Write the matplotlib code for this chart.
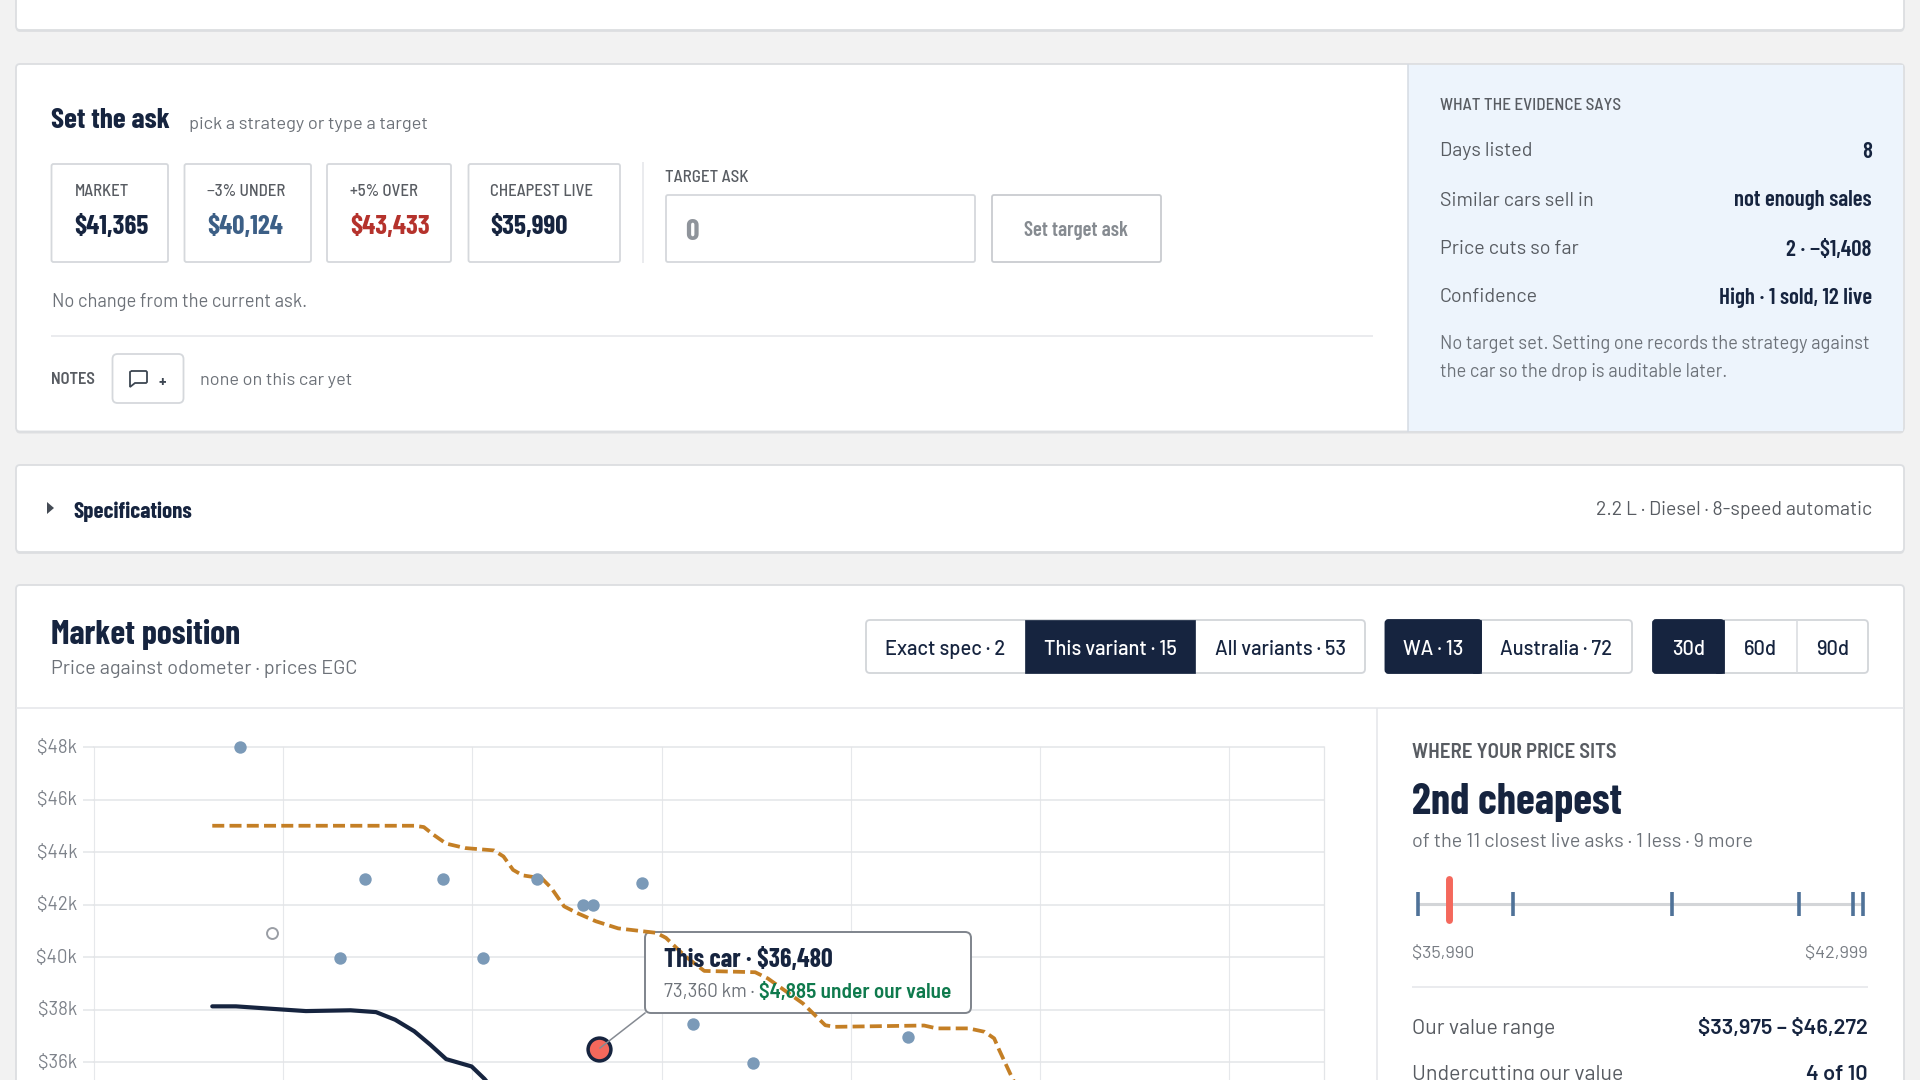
import matplotlib
matplotlib.use("Agg")
import matplotlib.pyplot as plt
from matplotlib.patches import FancyBboxPatch, Rectangle, Polygon
from matplotlib.path import Path
from matplotlib.patches import PathPatch
from matplotlib.transforms import ScaledTranslation

# ---------- data ----------
live_km = [35400, 48660, 56880, 66780, 77890, 71690, 72780, 45970, 61120, 83350, 89610, 106040]
live_price = [48000, 42960, 42970, 42970, 42830, 41970, 41970, 39970, 39970, 37450, 35970, 36950]
sold_km = [38770]
sold_price = [40900]
car_km = [73360]
car_price = [36480]
market_km = [32500, 37000, 53850, 54860, 55870, 57220, 59240, 62270, 63280, 64290, 65300, 67320,
             68330, 69680, 71030, 73050, 75400, 79440, 80450, 82480, 84500, 89880, 91230, 94930,
             97290, 98300, 107730, 109080, 112450, 114130, 115140, 115680, 117150, 118000]
market_price = [45000, 45000, 45000, 44950, 44660, 44320, 44150, 44060, 43830, 43320, 43110, 43000,
                42630, 41930, 41680, 41360, 41090, 40920, 40730, 40030, 39470, 39420, 39180, 38230,
                37400, 37340, 37390, 37280, 37280, 37150, 36900, 36450, 35310, 35000]
trend_km = [32500, 35000, 39040, 42400, 47120, 49810, 51830, 53850, 55540, 57220, 59910, 61260, 61930]
trend_price = [38120, 38120, 38020, 37940, 37970, 37900, 37610, 37170, 36660, 36110, 35830, 35360, 35070]
y_ticks = [36000, 38000, 40000, 42000, 44000, 46000, 48000]
y_labels = ["$36k", "$38k", "$40k", "$42k", "$44k", "$46k", "$48k"]
x_ticks = [20000, 40000, 60000, 80000, 100000, 120000, 140000, 150000]
strip_asks = [35990, 37480, 39990, 41990, 42850, 42999]
strip_car = [36480]
strategy_labels = ["MARKET", "−3% UNDER", "+5% OVER", "CHEAPEST LIVE"]
strategy_values = ["$41,365", "$40,124", "$43,433", "$35,990"]
evidence_labels = ["Days listed", "Similar cars sell in", "Price cuts so far", "Confidence"]
evidence_values = ["8", "not enough sales", "2 · −$1,408", "High · 1 sold, 12 live"]

# ---------- style ----------
NAVY = "#16243f"
GREY = "#6d7279"
MID = "#585c62"
BORDER = "#d5d8dc"
COND = ["Barlow Condensed", "Roboto", "DejaVu Sans"]
SEMI = ["Barlow Semi Condensed", "Roboto", "DejaVu Sans"]
BODY = ["Barlow", "Roboto", "DejaVu Sans"]

fig = plt.figure(figsize=(19.2, 10.8), dpi=100, facecolor="#f2f2f2")
ui = fig.add_axes([0, 0, 1, 1], zorder=0)
ui.set_xlim(0, 1920)
ui.set_ylim(1080, 0)
ui.axis("off")


def T(x, y, s, size=13, color=GREY, weight="normal", family=BODY, ha="left", ax=ui, **kw):
    return ax.text(x, y + 4, s, fontsize=size, color=color, fontweight=weight, family=family,
                   ha=ha, va="center", transform=ui.transData, parse_math=False, **kw)


def box(x0, y0, x1, y1, fc="white", ec=BORDER, r=3, lw=1.3, z=1, ax=ui):
    p = FancyBboxPatch((x0, y0), x1 - x0, y1 - y0, boxstyle=f"round,pad=0,rounding_size={r}",
                       fc=fc, ec=ec, lw=lw, zorder=z, transform=ui.transData, clip_on=False)
    ax.add_patch(p)
    return p


def hline(x0, x1, y, c="#e4e6e9", lw=1.1):
    ui.plot([x0, x1], [y, y], color=c, lw=lw, solid_capstyle="butt", zorder=2)


def vline(x, y0, y1, c="#e4e6e9", lw=1.1):
    ui.plot([x, x], [y0, y1], color=c, lw=lw, solid_capstyle="butt", zorder=2)


def card(y0, y1):
    box(16, y0 + 2, 1904, y1 + 2, fc="#dfe0e2", ec="none", r=4, z=0.5)
    box(16, y0, 1904, y1, ec="#dcdee1", r=4, z=1)


# cards
card(-20, 30)
card(64, 431.5)
card(465, 552)
card(585, 1120)

# ----- Set the ask -----
ui.add_patch(Rectangle((1408, 65), 495, 365.5, fc="#edf4fc", ec="none", zorder=1.5))
vline(1408, 64, 431.5, c="#d5dbe3")
T(51, 116, "Set the ask", size=21.2, color=NAVY, weight="bold", family=COND)
T(189, 120, "pick a strategy or type a target", size=13.1)

sx0 = [51.5, 184.5, 327, 468.5]
sx1 = [168, 311, 451, 620]
lx = [74.5, 207, 350, 490]
vcol = [NAVY, "#3c5f86", "#b5322c", NAVY]
for a, b, tx, lab, val, c in zip(sx0, sx1, lx, strategy_labels, strategy_values, vcol):
    box(a, 164, b, 262, r=2)
    T(tx, 188, lab, size=12, color=MID, family=SEMI, weight="medium")
    T(tx, 223, val, size=19.5, color=c, weight="bold", family=COND)
vline(643, 162, 263)
T(665, 174, "TARGET ASK", size=12.2, color=MID, family=SEMI, weight="medium")
box(666, 195, 975, 262, r=2)
T(685, 229, "0", size=21.6, color="#8f949b", weight="bold", family=COND)
box(992, 195, 1161, 262, r=2, ec="#c9ccd0")
T(1076, 227, "Set target ask", size=15, color="#868b91", weight="semibold", family=COND, ha="center")
T(51.5, 298, "No change from the current ask.", size=13.2)
hline(51, 1373, 336)
T(51, 376, "NOTES", size=11.9, color=MID, family=SEMI, weight="semibold")
box(112.5, 354, 183.5, 403, r=5)
bubble = Path([(131, 371), (146, 371), (147, 372), (147, 382), (146, 383), (135, 383), (130, 387), (130, 372), (131, 371)])
ui.add_patch(PathPatch(bubble, fc="none", ec="#3d4652", lw=1.3, zorder=3))
T(162, 378, "+", size=11, color="#3d4652", ha="center", weight="bold")
T(199.5, 377, "none on this car yet", size=13)

T(1440, 102, "WHAT THE EVIDENCE SAYS", size=12.3, color=MID, family=SEMI, weight="medium")
for yy, lab, val in zip([147.5, 196.5, 245.5, 293.5], evidence_labels, evidence_values):
    T(1440, yy, lab, size=14.2, color=MID)
    T(1872, yy, val, size=16.5, color=NAVY, weight="semibold", family=COND, ha="right")
T(1440, 340, "No target set. Setting one records the strategy against", size=13.15)
T(1440, 368, "the car so the drop is auditable later.", size=13.15)

# ----- Specifications -----
ui.add_patch(Polygon([(47, 502), (47, 514), (54, 508)], fc="#444b55", ec="none", zorder=3))
T(73.5, 508, "Specifications", size=16.5, color=NAVY, weight="bold", family=COND)
T(1872, 506, "2.2 L · Diesel · 8-speed automatic", size=14.05, color=MID, ha="right")

# ----- Market position header -----
T(51, 630, "Market position", size=24.3, color=NAVY, weight="bold", family=COND)
T(51, 665, "Price against odometer · prices EGC", size=14.3, color=GREY)
hline(16, 1904, 708)
vline(1377, 708, 1080)


def segmented(x0, x1, splits, labels, active):
    edges = [x0] + splits + [x1]
    box(x0, 620, x1, 673, r=4, ec="#d2d5d9")
    for i, lab in enumerate(labels):
        a, b = edges[i], edges[i + 1]
        if i == active:
            if i == 0:
                box(a, 620, b, 673, fc=NAVY, ec=NAVY, r=3, z=1.6)
                ui.add_patch(Rectangle((b - 8, 620), 8, 53, fc=NAVY, ec=NAVY, lw=0.5, zorder=1.7))
            else:
                ui.add_patch(Rectangle((a, 620), b - a, 53, fc=NAVY, ec=NAVY, lw=0.5, zorder=1.7))
        elif i > 0 and i - 1 != active:
            vline(a, 620, 673, c="#d9dbdf")
        T((a + b) / 2, 645.5, lab, size=14.5, color="white" if i == active else NAVY,
          ha="center", weight="medium", zorder=3)


segmented(866, 1365, [1024.6, 1195.4], ["Exact spec · 2", "This variant · 15", "All variants · 53"], 1)
segmented(1385.5, 1632, [1481], ["WA · 13", "Australia · 72"], 0)
segmented(1653, 1868, [1723.6, 1797], ["30d", "60d", "90d"], 0)

# ----- Scatter chart -----
L, R, TOP, BOT = 94, 1324, 747, 1080
ch = fig.add_axes([L / 1920, 0, (R - L) / 1920, (BOT - TOP) / 1080], zorder=1)
ch.patch.set_alpha(0)
ch.set_xlim(20000, 150000)
ch.set_ylim(48000 - (BOT - TOP) / 52.5 * 2000, 48000)
for s in ["top", "bottom", "left"]:
    ch.spines[s].set_visible(False)
ch.spines["right"].set_color("#e3e5e8")
ch.set_xticks(x_ticks)
ch.set_xticklabels([])
ch.set_yticks(y_ticks)
ch.set_yticklabels(y_labels, fontsize=13.4, color="#7d828a", family=BODY)
ch.tick_params(axis="y", length=8, width=1.1, color="#e3e5e8", pad=4)
ch.tick_params(axis="x", length=0)
ch.grid(axis="x", color="#e6e8eb", lw=0.8, clip_on=False)
ch.grid(axis="y", color="#e3e5e8", lw=1.1, clip_on=False)
ch.set_axisbelow(True)
up = ScaledTranslation(0, 1.3 / 100, fig.dpi_scale_trans)
for lab in ch.get_yticklabels():
    lab.set_transform(lab.get_transform() + up)

box(645, 932, 971, 1013, fc="white", ec="#7f848c", r=6, lw=1.4, z=2, ax=ch)
ch.plot(market_km, market_price, color="#c47f25", lw=2.7, dashes=(3.2, 1.4), zorder=3)
ch.plot(trend_km, trend_price, color=NAVY, lw=3, zorder=3, solid_capstyle="round")
ch.scatter(live_km, live_price, s=80, color="#7b9ab8", zorder=4, clip_on=False, linewidths=0)
ch.scatter(sold_km, sold_price, s=62, facecolor="white", edgecolor="#9a9ea5", lw=1.4, zorder=4, clip_on=False)
ch.scatter(car_km, car_price, s=270, facecolor="#f4685c", edgecolor=NAVY, lw=2.5, zorder=5, clip_on=False)
ch.plot([645, 600], [1013, 1048], color="#858a92", lw=1.1, zorder=6, transform=ui.transData, clip_on=False)
T(664, 956, "This car · $36,480", size=18.7, color=NAVY, weight="bold", family=COND, ax=ch, zorder=7)
T(664, 988, "73,360 km · ", size=13.6, color=GREY, ax=ch, zorder=7)
T(759, 988, "$4,885 under our value", size=15.3, color="#0f7a4d", weight="semibold", family=SEMI, ax=ch, zorder=7)

# ----- Right panel -----
T(1412, 749, "WHERE YOUR PRICE SITS", size=15, color=MID, family=SEMI, weight="semibold")
T(1412, 798, "2nd cheapest", size=31, color=NAVY, weight="bold", family=COND)
T(1412, 838, "of the 11 closest live asks · 1 less · 9 more", size=14.3, color=GREY)

sp = fig.add_axes([1418.4 / 1920, (1080 - 922) / 1080, (1862.8 - 1418.4) / 1920, 45 / 1080], zorder=1)
sp.patch.set_alpha(0)
sp.axis("off")
sp.set_xlim(strip_asks[0], strip_asks[-1])
sp.set_ylim(-1, 1)
sp.hlines([-0.2], strip_asks[0], strip_asks[-1], color="#d3d5d8", lw=2.2, zorder=1)
sp.vlines(strip_asks, -0.73, 0.33, color="#4f7298", lw=2.6, zorder=2, clip_on=False)
sp.vlines(strip_car, -0.92, 0.92, color="#f4685c", lw=5, zorder=3, capstyle="round", clip_on=False)

T(1412, 948.7, "$35,990", size=13, color="#777c83")
T(1868, 948.7, "$42,999", size=13, color="#777c83", ha="right")
hline(1412, 1868, 987)
T(1412, 1025, "Our value range", size=15.4, color=MID)
T(1868, 1025, "$33,975 – $46,272", size=15.6, color=NAVY, weight="semibold", ha="right")
T(1412, 1071, "Undercutting our value", size=15.4, color=MID)
T(1868, 1071, "4 of 10", size=15.6, color=NAVY, weight="semibold", ha="right")

fig.savefig("out.png", dpi=100, facecolor=fig.get_facecolor())
